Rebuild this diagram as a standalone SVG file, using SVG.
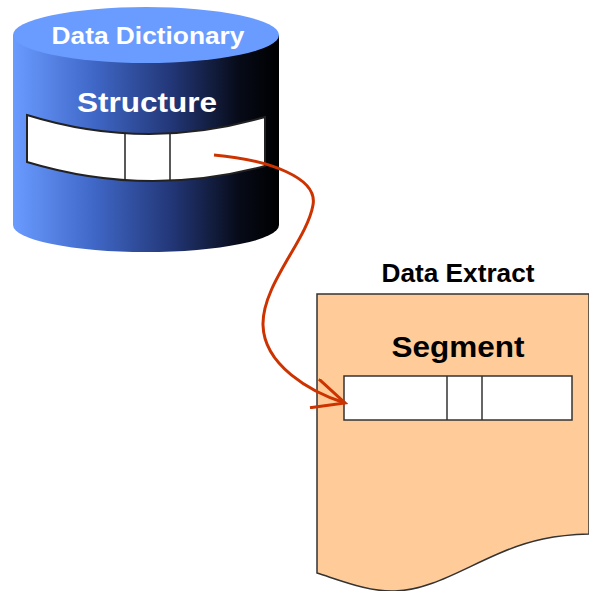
<svg xmlns="http://www.w3.org/2000/svg" width="589" height="591" viewBox="0 0 589 591">
<defs>
<linearGradient id="body" x1="13" y1="0" x2="279" y2="0" gradientUnits="userSpaceOnUse">
<stop offset="0" stop-color="#6a9bff"/>
<stop offset="0.3" stop-color="#4068c8"/>
<stop offset="0.6" stop-color="#223676"/>
<stop offset="0.85" stop-color="#070b18"/>
<stop offset="1" stop-color="#000"/>
</linearGradient>
<marker id="arrow" viewBox="0 0 36 32" refX="33" refY="16" markerWidth="36" markerHeight="32" markerUnits="userSpaceOnUse" orient="auto">
<path d="M1,1 L33,16 L1,31" fill="none" stroke="#cc3300" stroke-width="3"/>
</marker>
<style>
.lbl{font-family:"Liberation Sans",Arial,sans-serif;font-weight:bold;text-anchor:middle}
.w{fill:#fff}
.k{fill:#000}
.box{fill:#fff;stroke:#333;stroke-width:1.5}
</style>
</defs>
<g id="data-dictionary">
<path d="M13,35 L13,225 A133,27 0 0 0 279,225 L279,35 Z" fill="url(#body)"/>
<ellipse cx="146" cy="35" rx="133" ry="28" fill="#6a9bff"/>
<text class="lbl w" x="148" y="44" font-size="24" textLength="193" lengthAdjust="spacingAndGlyphs">Data Dictionary</text>
<text class="lbl w" x="147" y="112" font-size="28" textLength="140" lengthAdjust="spacingAndGlyphs">Structure</text>
<path d="M27,115 Q146,152 265,117 L265,166 Q146,198 27,162 Z" fill="#fff" stroke="#222" stroke-width="2"/>
<line x1="125" y1="133" x2="125" y2="181" stroke="#222" stroke-width="1.5"/>
<line x1="170" y1="134" x2="170" y2="181" stroke="#222" stroke-width="1.5"/>
</g>
<g id="data-extract">
<text class="lbl k" x="458" y="282" font-size="25" textLength="153" lengthAdjust="spacingAndGlyphs">Data Extract</text>
<path d="M317,294 L589,294 L589,534 C555,535 530,540 500,553 C460,570 430,590 395,591 C370,592 345,582 317,573 Z" fill="#ffcc99" stroke="#333" stroke-width="1.5"/>
<text class="lbl k" x="458" y="357" font-size="29" textLength="133" lengthAdjust="spacingAndGlyphs">Segment</text>
<rect class="box" x="344" y="376" width="228" height="44"/>
<line x1="447" y1="376" x2="447" y2="420" stroke="#333" stroke-width="1.5"/>
<line x1="482" y1="376" x2="482" y2="420" stroke="#333" stroke-width="1.5"/>
</g>
<g id="connectors">
<path d="M214,155 C270,160 318,178 313,205 C307,240 262,285 263,325 C264,365 310,392 345,403" fill="none" stroke="#cc3300" stroke-width="3" marker-end="url(#arrow)"/>
</g>
</svg>
